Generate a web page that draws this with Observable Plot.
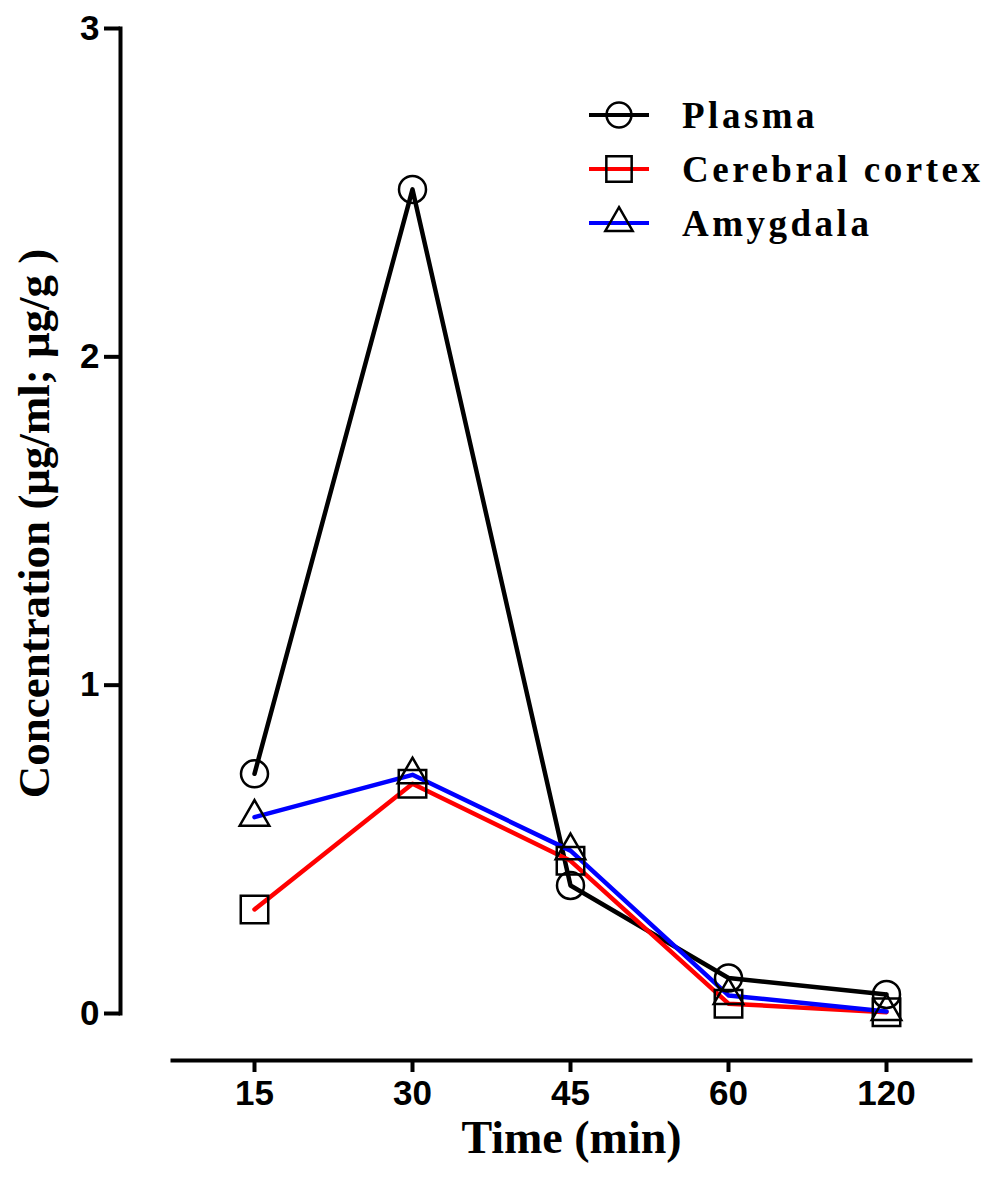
<!DOCTYPE html>
<html><head><meta charset="utf-8">
<script src="https://cdn.jsdelivr.net/npm/d3@7"></script>
<script src="https://cdn.jsdelivr.net/npm/@observablehq/plot@0.6"></script>
<style>
body{margin:0;background:#fff}
#wrap{position:relative;width:999px;height:1182px}
#legend{position:absolute;left:588px;top:88px;font-family:"Liberation Serif","Times New Roman",serif;font-weight:bold;font-size:37px;letter-spacing:3.5px;color:#000}
.row{display:flex;align-items:center;height:54px}
.row svg{margin-right:32px;flex:none}
</style></head><body><div id="wrap"><div id="legend"></div></div>
<script>
const times = ["15", "30", "45", "60", "120"];
const plasma = [0.730, 2.51, 0.39, 0.108, 0.058];
const cortex = [0.317, 0.700, 0.465, 0.030, 0.004];
const amygdala = [0.598, 0.727, 0.496, 0.055, 0.006];
const seriesNames = ["Plasma", "Cerebral cortex", "Amygdala"];
const seriesColors = ["#000000", "#ff0000", "#0000ff"];
const seriesSymbols = ["circle", "square", "triangle"];
const seriesR = [13.5, 15.5, 11];
const yTicks = [0, 1, 2, 3];
const xTitle = "Time (min)";
const yTitle = "Concentration (\u03bcg/ml; \u03bcg/g )";

const values = [plasma, cortex, amygdala];
const data = seriesNames.flatMap((s, k) => times.map((t, i) => ({time: t, value: values[k][i], series: s})));

const serif = "'Liberation Serif', 'Times New Roman', serif";
const plot = Plot.plot({
  width: 999, height: 1182,
  marginLeft: 120, marginRight: 29, marginTop: 28, marginBottom: 122,
  style: {background: "#fff", color: "#000", fontFamily: "'Liberation Sans', Arial, sans-serif", fontWeight: "bold", fontSize: "35px"},
  x: {type: "point", domain: times, range: [253, 886], padding: 0},
  y: {domain: [0, 3], range: [1013, 28]},
  color: {domain: seriesNames, range: seriesColors},
  symbol: {domain: seriesNames, range: seriesSymbols},
  marks: [
    Plot.frame({anchor: "left", insetBottom: 47, strokeWidth: 4, stroke: "#000"}),
    Plot.frame({anchor: "bottom", insetLeft: 52, strokeWidth: 4, stroke: "#000"}),
    Plot.axisY({ticks: yTicks, tickSize: 16, tickPadding: 5, strokeWidth: 4, label: null, fontSize: 35, tickFormat: d => String(d)}),
    Plot.axisX({tickSize: 12, tickPadding: 8, strokeWidth: 4, label: null, fontSize: 35}),
    Plot.line(data, {x: "time", y: "value", z: "series", stroke: "series", strokeWidth: 4.5}),
    ...seriesNames.map((s, k) => Plot.dot(data.filter(d => d.series === s), {x: "time", y: "value", symbol: "series", r: seriesR[k], stroke: "#000", strokeWidth: 2.5, fill: "none"})),
    Plot.text([yTitle], {frameAnchor: "left", textAnchor: "middle", lineAnchor: "middle", rotate: -90, dx: -86, dy: -21, fontSize: 45, fontFamily: serif, fontWeight: "bold"}),
    Plot.text([xTitle], {frameAnchor: "bottom", textAnchor: "middle", lineAnchor: "middle", dx: 26, dy: 78, fontSize: 46, fontFamily: serif, fontWeight: "bold"})
  ]
});
document.getElementById("wrap").appendChild(plot);

const legend = document.getElementById("legend");
seriesNames.forEach((s, k) => {
  const row = document.createElement("div");
  row.className = "row";
  const sym = d3.symbol(d3["symbol" + seriesSymbols[k][0].toUpperCase() + seriesSymbols[k].slice(1)], Math.PI * seriesR[k] * seriesR[k] * 0.85)();
  row.innerHTML = `<svg width="62" height="40" viewBox="-31 -20 62 40"><line x1="-30" x2="30" y1="0" y2="0" stroke="${seriesColors[k]}" stroke-width="4"/><path d="${sym}" fill="none" stroke="#000" stroke-width="2.5"/></svg><span>${s}</span>`;
  legend.appendChild(row);
});
</script>
</body></html>
